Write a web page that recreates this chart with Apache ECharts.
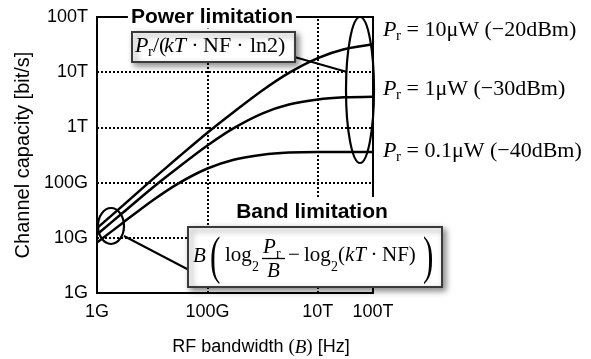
<!DOCTYPE html>
<html>
<head>
<meta charset="utf-8">
<script src="https://cdn.jsdelivr.net/npm/echarts@6/dist/echarts.min.js"></script>
<style>
html, body { margin: 0; padding: 0; background: #fff; }
#chart { width: 591px; height: 359px; }
</style>
</head>
<body>
<div id="chart"></div>
<script>
// RF bandwidth samples [Hz]
const bandwidth = [1e9, 3e9, 1e10, 3e10, 1e11, 3e11, 1e12, 3e12, 1e13, 3e13, 1e14];
// channel capacity [bit/s]
const cap10uW = [1.5e10, 3.9e10, 1.13e11, 2.9e11, 8.0e11, 1.9e12, 4.7e12, 9.7e12, 1.8e13, 2.6e13, 3.2e13];
const cap1uW = [1.15e10, 2.9e10, 8.0e10, 1.9e11, 4.7e11, 9.7e11, 1.8e12, 2.6e12, 3.2e12, 3.5e12, 3.6e12];
const cap01uW = [8.2e9, 1.9e10, 4.7e10, 9.7e10, 1.8e11, 2.6e11, 3.2e11, 3.5e11, 3.6e11, 3.6e11, 3.6e11];
const xTickLabels = { 9: '1G', 11: '100G', 13: '10T', 14: '100T' };
const yTickLabels = ['1G', '10G', '100G', '1T', '10T', '100T'];
const xGridAt = [1e11, 1e13];
const powerLabels = ['10μW (−20dBm)', '1μW (−30dBm)', '0.1μW (−40dBm)'];

const serif = "'Liberation Serif', 'Times New Roman', serif";
const sans = "'Liberation Sans', Arial, sans-serif";
const dots = [2, 2];

function toPts(caps) {
    return bandwidth.map((b, i) => [Math.log10(b), Math.log10(caps[i])]);
}

function txt(x, y, text, size, extra, scaleX) {
    return {
        type: 'text', x: x, y: y, z: 100, scaleX: scaleX || 1,
        style: Object.assign({
            text: text, fontSize: size, fontFamily: serif, fill: '#000',
            align: 'left', verticalAlign: 'middle'
        }, extra || {})
    };
}
const it = { fontStyle: 'italic' };

function box(x, y, w, h) {
    return {
        type: 'rect', z: 100,
        shape: { x: x, y: y, width: w, height: h },
        style: {
            fill: '#fff', stroke: '#3a3a3a', lineWidth: 2,
            shadowBlur: 6, shadowOffsetX: 3, shadowOffsetY: 3, shadowColor: 'rgba(0,0,0,0.45)'
        }
    };
}
function seg(x1, y1, x2, y2, w) {
    return { type: 'line', z: 100, shape: { x1: x1, y1: y1, x2: x2, y2: y2 }, style: { stroke: '#000', lineWidth: w || 2 } };
}
function oval(cx, cy, rx, ry) {
    return { type: 'ellipse', z: 100, shape: { cx: cx, cy: cy, rx: rx, ry: ry }, style: { fill: 'none', stroke: '#000', lineWidth: 2.2 } };
}

const graphics = [
    oval(360, 90, 14, 73),
    oval(111, 226, 13, 18),
    seg(291, 56, 347, 72),
    seg(124, 236, 189, 270),
    // power limitation
    txt(212, 17, 'Power limitation', 21, { fontFamily: sans, fontWeight: 'bold', align: 'center', backgroundColor: '#fff', padding: [1, 3] }),
    box(132, 32, 163, 30),
    txt(135, 46, 'P', 22, it),
    txt(148, 52, 'r', 15),
    txt(153, 46, '/(', 22),
    txt(164, 46, 'kT', 22, it),
    txt(195, 46, '·', 22, { align: 'center' }),
    txt(203, 46, 'NF', 22),
    txt(240, 46, '·', 22, { align: 'center' }),
    txt(250, 46, 'ln2)', 22),
    // band limitation
    txt(312, 212.5, 'Band limitation', 21, { fontFamily: sans, fontWeight: 'bold', align: 'center', backgroundColor: '#fff', padding: [7, 6, 3, 6] }),
    box(188, 227, 254, 60),
    txt(193, 256, 'B', 21, it),
    txt(210, 259, '(', 52, null, 0.6),
    txt(225, 255, 'log', 21),
    txt(252, 267, '2', 14),
    txt(263, 247, 'P', 21, it),
    txt(276, 254, 'r', 14),
    seg(262, 258.5, 285, 258.5, 1.3),
    txt(267, 271, 'B', 21, it),
    txt(288, 255, '−', 21),
    txt(304, 255, 'log', 21),
    txt(331, 267, '2', 14),
    txt(338, 255, '(', 21),
    txt(345, 255, 'kT', 21, it),
    txt(374, 255, '·', 21, { align: 'center' }),
    txt(382, 255, 'NF)', 21),
    txt(423, 259, ')', 52, null, 0.6)
];
[30, 89, 151].forEach((y, i) => {
    graphics.push(txt(383, y, 'P', 22, it));
    graphics.push(txt(396, y + 6, 'r', 15));
    graphics.push(txt(401, y, ' = ' + powerLabels[i], 22));
});

const chart = echarts.init(document.getElementById('chart'));
const lineStyle = { color: '#000', width: 2.5 };
const option = {
    animation: false,
    grid: {
        left: 97, right: 218, top: 17, bottom: 66, outerBoundsMode: 'none', containLabel: false,
        show: true, borderColor: '#000', borderWidth: 2, backgroundColor: 'transparent'
    },
    xAxis: {
        type: 'value', min: 9, max: 14, interval: 1,
        name: 'RF bandwidth {m|(}{mi|B}{m|)} [Hz]',
        nameLocation: 'middle', nameGap: 45,
        nameTextStyle: {
            color: '#000', fontSize: 18, fontFamily: sans, padding: [0, 0, 0, 52],
            rich: {
                m: { fontSize: 19, fontFamily: serif, color: '#000' },
                mi: { fontSize: 19, fontFamily: serif, fontStyle: 'italic', color: '#000' }
            }
        },
        axisLine: { show: true, lineStyle: { color: '#000', width: 2 } },
        axisTick: { show: false },
        splitLine: { show: false },
        axisLabel: {
            color: '#000', fontSize: 18, fontFamily: sans, margin: 10,
            formatter: v => xTickLabels[v] || ''
        }
    },
    yAxis: {
        type: 'value', min: 9, max: 14, interval: 1,
        name: 'Channel capacity [bit/s]',
        nameLocation: 'middle', nameGap: 64,
        nameTextStyle: { color: '#000', fontSize: 20, fontFamily: sans },
        axisLine: { show: true, lineStyle: { color: '#000', width: 2 } },
        axisTick: { show: false },
        splitLine: { show: true, lineStyle: { color: '#000', width: 2, type: dots } },
        axisLabel: {
            color: '#000', fontSize: 18, fontFamily: sans, margin: 9,
            formatter: v => yTickLabels[v - 9]
        }
    },
    series: [
        {
            type: 'line', data: toPts(cap10uW), showSymbol: false, smooth: 0.3,
            lineStyle: lineStyle, silent: true,
            markLine: {
                silent: true, symbol: 'none', label: { show: false },
                lineStyle: { color: '#000', width: 2, type: dots },
                data: xGridAt.map(v => ({ xAxis: Math.log10(v) }))
            }
        },
        { type: 'line', data: toPts(cap1uW), showSymbol: false, smooth: 0.3, lineStyle: lineStyle, silent: true },
        { type: 'line', data: toPts(cap01uW), showSymbol: false, smooth: 0.3, lineStyle: lineStyle, silent: true }
    ],
    graphic: graphics
};
chart.setOption(option);
</script>
</body>
</html>
